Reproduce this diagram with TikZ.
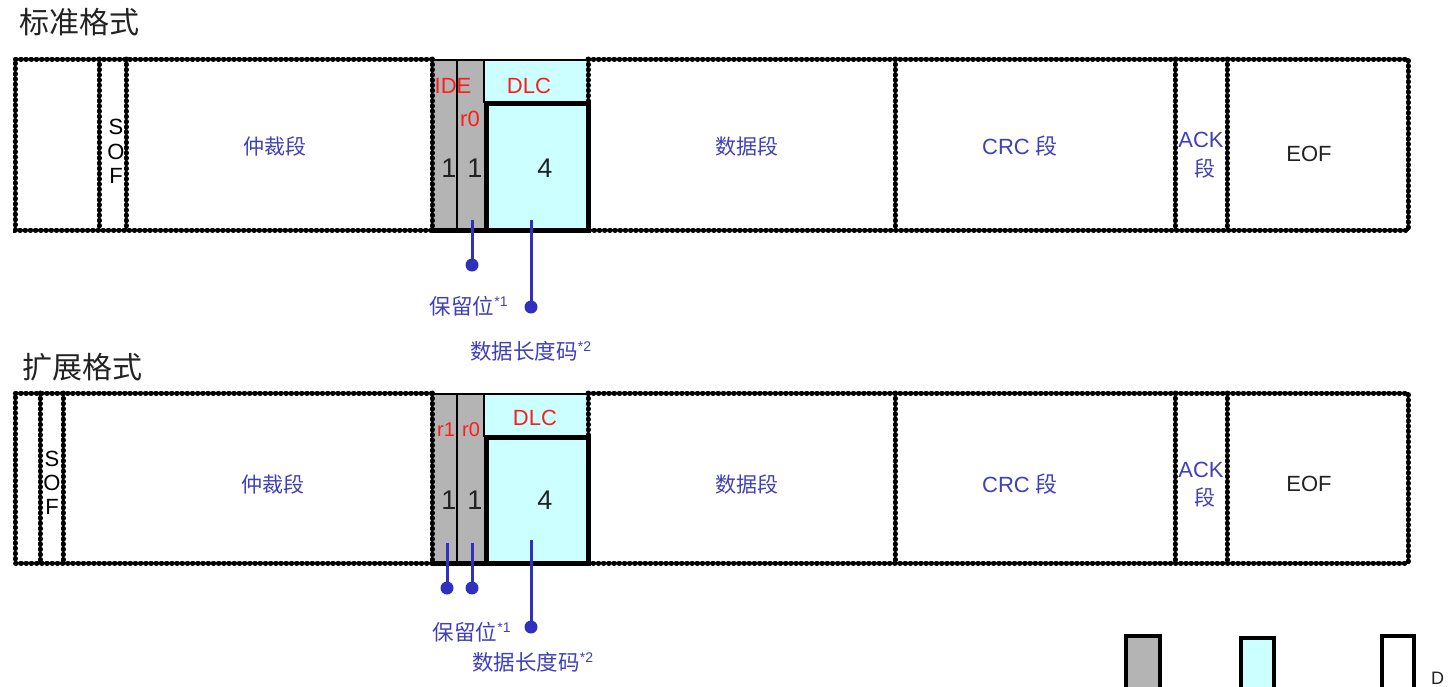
\documentclass[tikz,border=0pt]{standalone}
\usepackage{fontspec}
\setmainfont{Liberation Sans}
\newfontfamily\cjk{Noto Sans CJK SC}
\definecolor{txtblue}{RGB}{64,64,186}
\definecolor{lnblue}{RGB}{48,48,190}
\definecolor{fred}{RGB}{250,30,30}
\definecolor{fgray}{RGB}{180,180,180}
\definecolor{fcyan}{RGB}{204,255,255}
\definecolor{dgray}{RGB}{34,34,34}
\tikzset{
  dotline/.style={line width=5pt, dash pattern=on 0.6pt off 4.6pt, line cap=round,
    preaction={draw, line width=2.4pt, solid, line cap=butt}},
  thinline/.style={line width=2pt},
  thickline/.style={line width=5pt},
  lbl/.style={inner sep=0pt, font=\fontsize{22}{26}\selectfont},
  bluelbl/.style={lbl, text=txtblue},
  redlbl/.style={lbl, text=fred},
  numlbl/.style={inner sep=0pt, text=dgray, font=\fontsize{27}{30}\selectfont},
  titlelbl/.style={inner sep=0pt, anchor=west, text=dgray, font=\cjk\fontsize{30}{34}\selectfont},
  notelbl/.style={inner sep=0pt, text=txtblue, font=\cjk\fontsize{21.5}{24}\selectfont},
  pin/.style={circle, fill=lnblue, inner sep=0pt, minimum size=13pt},
  pinline/.style={draw=lnblue, line width=3pt},
  legbox/.style={line width=3.5pt}
}
\newcommand{\supnote}[1]{\textsuperscript{\rmfamily\fontsize{14}{15}\selectfont #1}}
\begin{document}
\begin{tikzpicture}[x=1pt,y=-1pt]
\clip (0,0) rectangle (1452,686);
\fill[white] (0,0) rectangle (1452,686);

% ---------- titles ----------
\node[titlelbl] (t1) at (19,22) {标准格式};
\node[titlelbl] (t2) at (22,367) {扩展格式};

% ---------- standard frame ----------
\fill[fgray] (434,60) rectangle (484,230);
\fill[fcyan] (484,60) rectangle (588,230);
\draw[dotline] (432,59) -- (15,59) -- (15,230) -- (432,230);
\draw[dotline] (588,59) -- (1408,59) -- (1408,230) -- (588,230);
\foreach \xx in {99,126,432,895,1175,1227} \draw[dotline] (\xx,59) -- (\xx,230);
\draw[dotline] (588,59) -- (588,101);
\draw[thinline] (432,60) -- (588,60);
\draw[thinline] (457,60) -- (457,230);
\draw[thinline] (484,60) -- (484,103);
\draw[thickline] (486.5,103.5) rectangle (588,230);
\draw[thickline] (432,230) -- (590,230);

\node[lbl] (as) at (116,127) {S};
\node[lbl] (ao) at (116,152) {O};
\node[lbl] (af) at (116,176) {F};
\node[bluelbl, font=\cjk\fontsize{21}{24}\selectfont] (aarb) at (275,146) {仲裁段};
\node[redlbl] (aide) at (453,86) {IDE};
\node[redlbl] (ar0) at (470,119) {r0};
\node[redlbl] (adlc) at (529,86) {DLC};
\node[numlbl] (a1) at (449,168) {1};
\node[numlbl] (a2) at (475,168) {1};
\node[numlbl] (a4) at (545,168) {4};
\node[bluelbl, font=\cjk\fontsize{21}{24}\selectfont] (adata) at (747,146) {数据段};
\node[bluelbl] (acrc) at (1020,146) {CRC {\cjk 段}};
\node[bluelbl] (aack) at (1201,140) {ACK};
\node[bluelbl, font=\cjk\fontsize{21}{24}\selectfont] (aackd) at (1205,168) {段};
\node[lbl, text=dgray] (aeof) at (1309,154) {EOF};

\coordinate (ar0s) at (472,220);
\coordinate (adlcs) at (531,220);
\node[pin] (ar0p) at (472,265) {};
\node[pin] (adlcp) at (531,307) {};
\draw[pinline] (ar0s) -- (ar0p.center);
\draw[pinline] (adlcs) -- (adlcp.center);
\node[notelbl] (anote1) at (469,306) {保留位\supnote{*1}};
\node[notelbl] (anote2) at (531,351) {数据长度码\supnote{*2}};

% ---------- extended frame ----------
\fill[fgray] (434,394) rectangle (484,563);
\fill[fcyan] (484,394) rectangle (588,563);
\draw[dotline] (432,393) -- (15,393) -- (15,563) -- (432,563);
\draw[dotline] (588,393) -- (1408,393) -- (1408,563) -- (588,563);
\foreach \xx in {40,63,432,895,1175,1227} \draw[dotline] (\xx,393) -- (\xx,563);
\draw[dotline] (588,393) -- (588,435);
\draw[thinline] (432,394) -- (588,394);
\draw[thinline] (457,394) -- (457,563);
\draw[thinline] (484,394) -- (484,437);
\draw[thickline] (486.5,437.5) rectangle (588,563);
\draw[thickline] (432,563) -- (590,563);

\node[lbl] (bs) at (52,459) {S};
\node[lbl] (bo) at (52,483) {O};
\node[lbl] (bf) at (52,507) {F};
\node[bluelbl, font=\cjk\fontsize{21}{24}\selectfont] (barb) at (273,484) {仲裁段};
\node[redlbl, font=\fontsize{20}{24}\selectfont] (br1) at (446,430) {r1};
\node[redlbl, font=\fontsize{20}{24}\selectfont] (br0) at (471,430) {r0};
\node[redlbl] (bdlc) at (535,418) {DLC};
\node[numlbl] (b1) at (449,500) {1};
\node[numlbl] (b2) at (475,500) {1};
\node[numlbl] (b4) at (545,500) {4};
\node[bluelbl, font=\cjk\fontsize{21}{24}\selectfont] (bdata) at (747,484) {数据段};
\node[bluelbl] (bcrc) at (1020,484) {CRC {\cjk 段}};
\node[bluelbl] (back) at (1201,470) {ACK};
\node[bluelbl, font=\cjk\fontsize{21}{24}\selectfont] (backd) at (1205,497) {段};
\node[lbl, text=dgray] (beof) at (1309,484) {EOF};

\coordinate (br1s) at (447,543);
\coordinate (br0s) at (472,543);
\coordinate (bdlcs) at (531,540);
\node[pin] (br1p) at (447,588) {};
\node[pin] (br0p) at (472,588) {};
\node[pin] (bdlcp) at (531,627) {};
\draw[pinline] (br1s) -- (br1p.center);
\draw[pinline] (br0s) -- (br0p.center);
\draw[pinline] (bdlcs) -- (bdlcp.center);
\node[notelbl] (bnote1) at (472,632) {保留位\supnote{*1}};
\node[notelbl] (bnote2) at (533,662) {数据长度码\supnote{*2}};

% ---------- legend (cut at bottom) ----------
\draw[legbox, fill=fgray] (1126,636) rectangle (1160,700);
\draw[legbox, fill=fcyan] (1241,638) rectangle (1274,700);
\draw[legbox, fill=white] (1382,636) rectangle (1414,700);
\node[lbl, text=dgray, anchor=south west, font=\fontsize{18}{20}\selectfont] (legd) at (1431,685) {D};
\end{tikzpicture}
\end{document}
